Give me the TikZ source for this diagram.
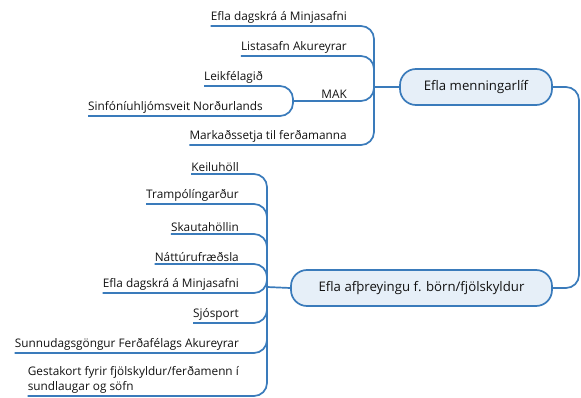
\documentclass[tikz,border=0pt]{standalone}
\usepackage{fontspec}
\setmainfont{Open Sans}
\usetikzlibrary{positioning,calc}
\definecolor{mapline}{HTML}{3A7BBB}
\definecolor{mapfill}{HTML}{E6EFF8}
\definecolor{maptext}{HTML}{111111}

\begin{document}
\begin{tikzpicture}[x=1pt, y=-1pt, every node/.style={font=\fontsize{11.8}{15}\selectfont, text=maptext},
  sub/.style={anchor=south east, inner xsep=0pt, inner ysep=2.5pt},
  topic/.style={draw=mapline, fill=mapfill, line width=1.7pt, rounded corners=16pt, minimum height=36pt, font=\fontsize{13.2}{15}\selectfont},
  link/.style={draw=mapline, line width=1.7pt, rounded corners=13pt}]
\useasboundingbox (0,0) rectangle (581,398);

\node[topic, minimum width=152pt] (menn) at (476,87) {Efla menningarlíf};
\node[topic, minimum width=261pt] (afth) at (421.5,288) {Efla afþreyingu f. börn/fjölskyldur};
\coordinate (rc) at (579,187);
\draw[link] (menn.east) -| (rc) |- (afth.east);

% menningarlíf
\coordinate (jm) at (374,87);
\coordinate (jmak) at (293,101);
\node[sub] (m1) at (347,26) {Efla dagskrá á Minjasafni};
\node[sub] (m2) at (347,56) {Listasafn Akureyrar};
\node[sub] (mak) at (347,101) {MAK};
\node[sub] (m3) at (263,86) {Leikfélagið};
\node[sub] (m4) at (263,116) {Sinfóníuhljómsveit Norðurlands};
\node[sub] (m5) at (347,145) {Markaðssetja til ferðamanna};

\draw[link] (menn.west) -- (jm);
\draw[link] (jm) |- (m1.south west);
\draw[link] (jm) |- (m2.south west);
\draw[link] (jm) |- (jmak);
\draw[link] (jm) |- (m5.south west);
\draw[link] (jmak) |- (m3.south west);
\draw[link] (jmak) |- (m4.south west);

% afþreying
\coordinate (jb) at (267,287);
\node[sub] (b1) at (239,174) {Keiluhöll};
\node[sub] (b2) at (239,204) {Trampólíngarður};
\node[sub] (b3) at (239,234) {Skautahöllin};
\node[sub] (b4) at (239,264) {Náttúrufræðsla};
\node[sub] (b5) at (239,293) {Efla dagskrá á Minjasafni};
\node[sub] (b6) at (239,323) {Sjósport};
\node[sub] (b7) at (239,353) {Sunnudagsgöngur Ferðafélags Akureyrar};
\node[sub, align=left] (b8) at (239,396) {Gestakort fyrir fjölskyldur/ferðamenn í\\sundlaugar og söfn};

\draw[link] (afth.west) -- (jb);
\draw[link] (jb) |- (b1.south west);
\draw[link] (jb) |- (b2.south west);
\draw[link] (jb) |- (b3.south west);
\draw[link] (jb) |- (b4.south west);
\draw[link] (jb) |- (b5.south west);
\draw[link] (jb) |- (b6.south west);
\draw[link] (jb) |- (b7.south west);
\draw[link] (jb) |- (b8.south west);
\end{tikzpicture}
\end{document}
